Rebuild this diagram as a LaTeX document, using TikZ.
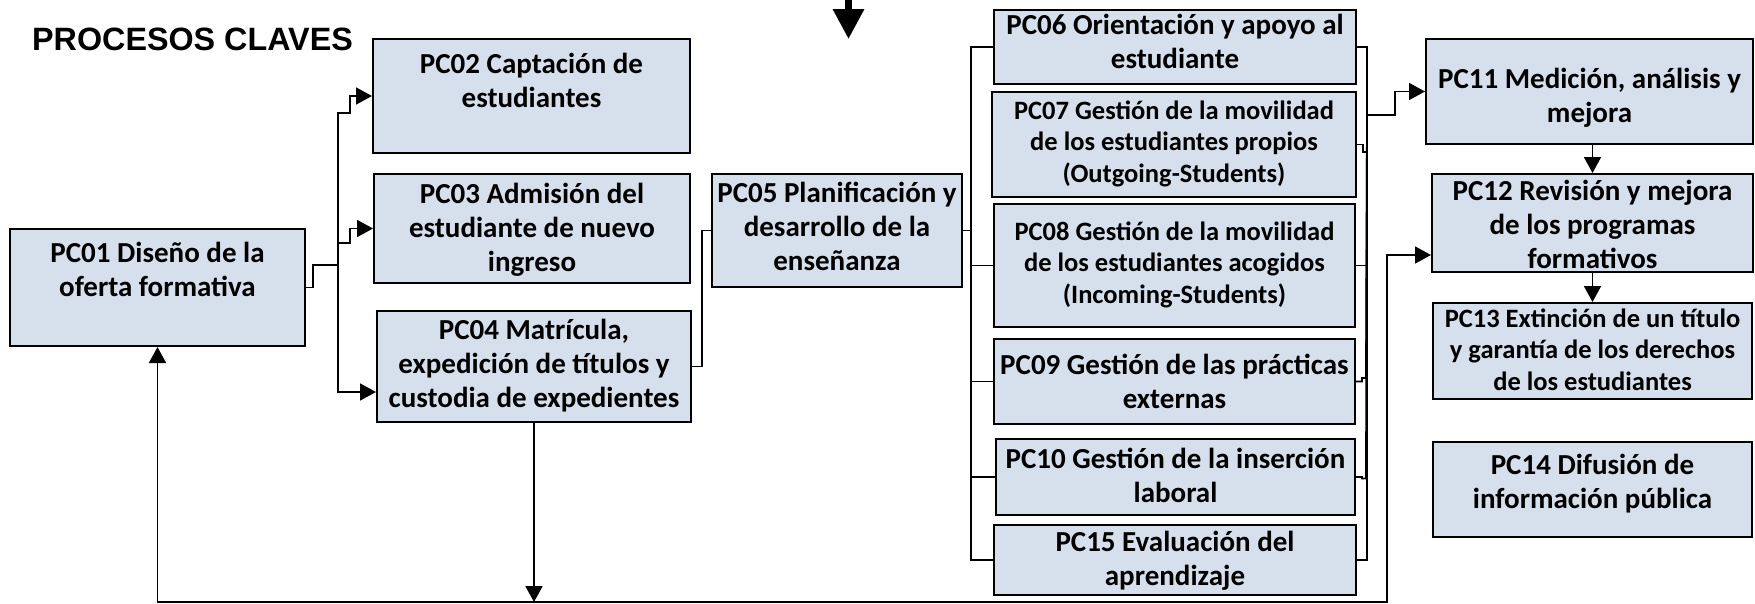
\documentclass[tikz,border=0pt]{standalone}
\usepackage{fontspec}
\setmainfont{Carlito}
\newfontfamily\titlefont{Liberation Sans}
\usetikzlibrary{positioning,shapes,arrows.meta,calc}
\definecolor{procfill}{RGB}{214,223,236}
\tikzstyle{proc}=[draw,fill=procfill,line width=2pt,inner sep=0pt,align=center,
  text depth=0pt,font=\bfseries\fontsize{29}{34}\selectfont]
\tikzstyle{small}=[font=\bfseries\fontsize{26.5}{31.5}\selectfont]
\tikzstyle{link}=[line width=1.8pt]
\newcommand{\newProc}[4]{\node[proc,#3](#1)[#4]{#2};}

\begin{document}
\begin{tikzpicture}[x=1pt,y=-1pt,node distance=29pt,
    >={Triangle[length=16pt,width=17pt]}
    ]
    \useasboundingbox (0,0) rectangle (1755,603);
    \node[font=\titlefont\bfseries\fontsize{32.3}{36}\selectfont,anchor=base west,inner sep=0pt]
      (title) at (32,50) {PROCESOS CLAVES};
    \newProc{pc01}{PC01 Diseño de la\\oferta formativa}{minimum width=295pt,minimum height=117pt,text height=17pt}{at={(157.5,287.5)}}
    \newProc{pc02}{PC02 Captación de\\estudiantes}{minimum width=317pt,minimum height=114pt,text height=22pt}{at={(531.5,96)}}
    \newProc{pc03}{PC03 Admisión del\\estudiante de nuevo\\ingreso}{minimum width=316pt,minimum height=109pt,text height=85pt}{at={(532,228.5)}}
    \newProc{pc04}{PC04 Matrícula,\\expedición de títulos y\\custodia de expedientes}{minimum width=314pt,minimum height=111pt,text height=81pt}{at={(534,366.5)}}
    \newProc{pc05}{PC05 Planificación y\\desarrollo de la\\enseñanza}{minimum width=250pt,minimum height=113pt,text height=79pt}{at={(837,230.5)}}
    \newProc{pc06}{PC06 Orientación y apoyo al\\estudiante}{minimum width=362pt,minimum height=74pt,text height=42pt}{at={(1175,47)}}
    \newProc{pc07}{PC07 Gestión de la movilidad\\de los estudiantes propios\\(Outgoing-Students)}{small,minimum width=364pt,minimum height=105pt,text height=75pt}{at={(1174,144.5)}}
    \newProc{pc08}{PC08 Gestión de la movilidad\\de los estudiantes acogidos\\(Incoming-Students)}{small,minimum width=361pt,minimum height=123pt,text height=75pt}{at={(1174.5,265.5)}}
    \newProc{pc09}{PC09 Gestión de las prácticas\\externas}{minimum width=361pt,minimum height=85pt,text height=53pt}{at={(1174.5,381.5)}}
    \newProc{pc10}{PC10 Gestión de la inserción\\laboral}{minimum width=359pt,minimum height=76pt,text height=50pt}{at={(1175.5,477)}}
    \newProc{pc15}{PC15 Evaluación del\\aprendizaje}{minimum width=362pt,minimum height=70pt,text height=50pt}{at={(1175,560)}}
    \newProc{pc11}{PC11 Medición, análisis y\\mejora}{minimum width=327pt,minimum height=105pt,text height=61pt}{at={(1589.5,91.5)}}
    \newProc{pc12}{PC12 Revisión y mejora\\de los programas\\formativos}{minimum width=321pt,minimum height=98pt,text height=90pt}{at={(1592.5,223)}}
    \newProc{pc13}{PC13 Extinción de un título\\y garantía de los derechos\\de los estudiantes}{small,minimum width=319pt,minimum height=96pt,text height=78pt}{below=29pt of pc12}
    \newProc{pc14}{PC14 Difusión de\\información pública}{minimum width=319pt,minimum height=95pt,text height=37pt}{below=41pt of pc13}

    % PC01 to PC02-PC04
    \coordinate (fanL) at (338,265);
    \draw[link] (pc01.east) -| (313,265) -- (fanL);
    \draw[link,->] (fanL) |- (350,113) |- (pc02.west);
    \draw[link,->] (fanL) |- (350,243) |- (pc03.west);
    \draw[link,->] (fanL) |- ($(pc04.west)+(0,25.5)$);
    \draw[link] (pc04.east) -- ++(10,0) |- (pc05.west);

    % PC05 to the bus on the left
    \coordinate (lbus) at (971,230.5);
    \foreach \p in {pc06,pc08,pc09,pc10,pc15}
      \draw[link] (pc05.east) -- (lbus) |- (\p.west);

    % bus on the right to PC11
    \coordinate (rbus) at (1367,115);
    \foreach \p in {pc06,pc08,pc15}
      \draw[link] (\p.east) -| (rbus);
    \draw[link] (pc07.east) -- ++(6,0) |- ++(4,7.5) -- (rbus);
    \draw[link] (pc09.east) -- ++(6,0) |- ++(4,-3.5) -- (rbus);
    \draw[link] (pc10.east) -- ++(6,0) |- ++(4,1.5) -- (rbus);
    \draw[link,->] (rbus) -- ++(28,0) |- (pc11.west);
    \draw[link,->] (pc12.north |- pc11.south) -- (pc12.north);
    \draw[link,->] (pc13.north |- pc12.south) -- (pc13.north);

    % feedback line
    \coordinate (fb) at (534,602);
    \draw[link,->] (pc04.south) -- (fb);
    \draw[link,->] (fb) -| (pc01.south);
    \draw[link,->] (fb) -| (1387,255) -- ($(pc12.west)+(0,32)$);

    \coordinate (topA) at (848.5,0);
    \coordinate (topB) at (848.5,39);
    \draw[line width=6.5pt,-{Triangle[length=30pt,width=30pt]}] (topA) -- (topB);
  \end{tikzpicture}
\end{document}
